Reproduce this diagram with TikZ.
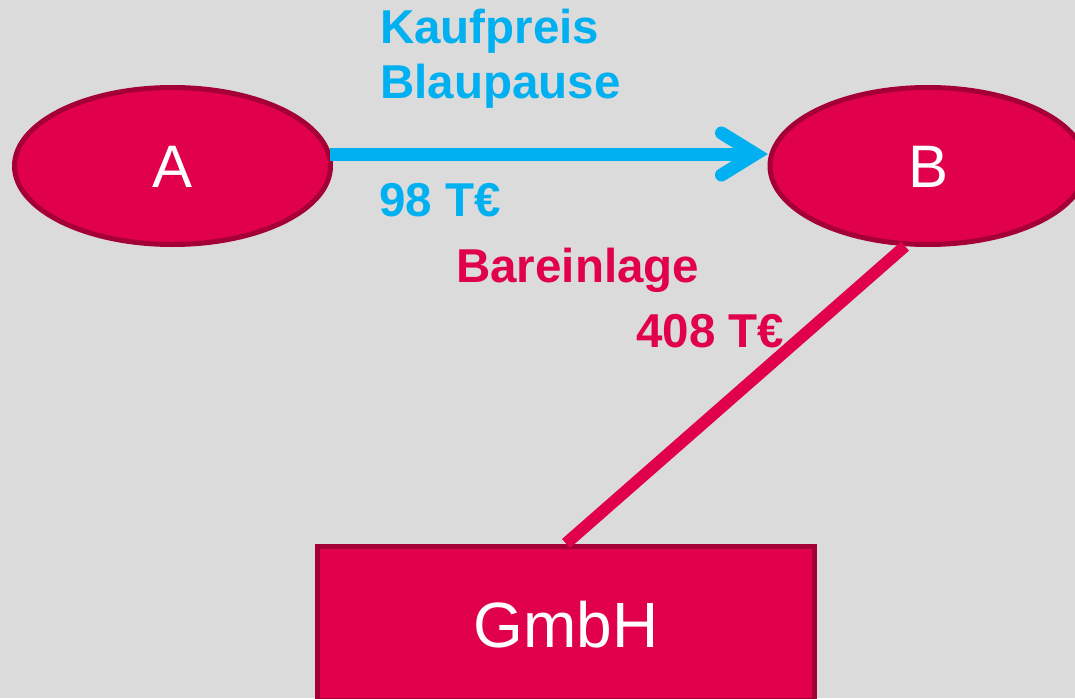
\documentclass[tikz,border=0pt]{standalone}
\usepackage{fontspec}
\setmainfont{Liberation Sans}
\usetikzlibrary{shapes.geometric,calc}
\definecolor{bg}{HTML}{DBDBDB}
\definecolor{redfill}{HTML}{E0004B}
\definecolor{redline}{HTML}{A50035}
\definecolor{skyblue}{HTML}{00B0F0}
\tikzset{
  party/.style={ellipse, draw=redline, fill=redfill, line width=5pt, minimum width=316pt, minimum height=157pt, inner sep=0pt, text=white, font=\fontsize{60}{72}\selectfont},
  company/.style={rectangle, draw=redline, fill=redfill, line width=5pt, minimum width=497pt, minimum height=154pt, inner sep=0pt, text=white, font=\fontsize{64}{76}\selectfont},
  bluelbl/.style={anchor=base west, inner sep=0pt, text=skyblue, font=\fontsize{47.5}{57}\selectfont\bfseries},
  redlbl/.style={anchor=base west, inner sep=0pt, text=redfill, font=\fontsize{47.5}{57}\selectfont\bfseries},
  blueline/.style={draw=skyblue, line width=13pt},
  redconn/.style={draw=redfill, line width=12pt}
}
\begin{document}
\begin{tikzpicture}[x=1pt,y=-1pt]
\fill[bg] (0,0) rectangle (1075,698);
\useasboundingbox (0,0) rectangle (1075,698);
\node[party] (A) at (172.5,166) {};
\node[party] (B) at (928,166) {};
\node[company] (G) at (566,623) {};
\node[anchor=base, text=white, font=\fontsize{60}{72}\selectfont] (Atxt) at (172.5,187) {A};
\node[anchor=base, text=white, font=\fontsize{60}{72}\selectfont] (Btxt) at (928,187) {B};
\node[anchor=base, text=white, font=\fontsize{64}{76}\selectfont] (Gtxt) at (566,647) {GmbH};
% connectors
\draw[redconn] (B.254) -- (G.north);
\coordinate (start) at ($(A.east)+(-3,-12)$);
\coordinate (tip) at ($(B.west)+(-12,-12)$);
\draw[blueline] (start) -- (tip);
\draw[blueline, line cap=round, line join=miter] ($(tip)+(-34,-21)$) -- (tip) -- ($(tip)+(-34,21)$);
% labels
\node[bluelbl] (k1) at (380,44) {Kaufpreis};
\node[bluelbl] (k2) at (380,99) {Blaupause};
\node[bluelbl] (k3) at (379,216) {98 T€};
\node[redlbl] (r1) at (456,282) {Bareinlage};
\node[redlbl] (r2) at (636,347) {408 T€};
\end{tikzpicture}
\end{document}
